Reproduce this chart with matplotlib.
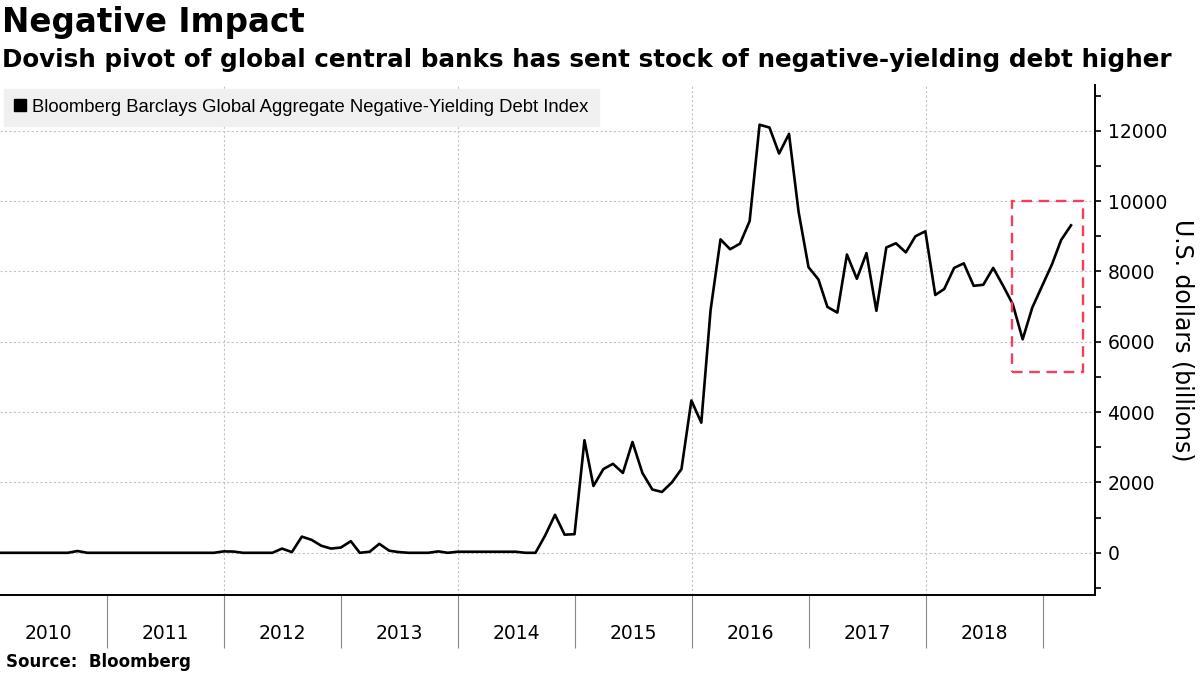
import matplotlib
matplotlib.use('Agg')
import matplotlib.pyplot as plt
import matplotlib.dates as mdates
from matplotlib.lines import Line2D
from matplotlib.patches import Rectangle
import pandas as pd

# month-end values, US$ billions
vals_2010 = [0, 0, 0, 0, 0, 0, 0, 0, 50, 0, 0, 0]
vals_2011 = [0, 0, 0, 0, 0, 0, 0, 0, 0, 0, 0, 40]
vals_2012 = [35, 0, 0, 0, 0, 120, 20, 460, 370, 200, 120, 150]
vals_2013 = [330, 0, 30, 255, 60, 20, 0, 0, 0, 40, 0, 30]
vals_2014 = [30, 30, 30, 30, 30, 30, 0, 0, 490, 1080, 515, 530]
vals_2015 = [3200, 1900, 2380, 2530, 2270, 3150, 2270, 1800, 1730, 2000, 2380, 4330]
vals_2016 = [3700, 6900, 8910, 8630, 8790, 9430, 12170, 12090, 11350, 11910, 9690, 8120]
vals_2017 = [7770, 6990, 6830, 8480, 7790, 8520, 6880, 8680, 8800, 8540, 9000, 9140]
vals_2018 = [7330, 7500, 8100, 8230, 7590, 7620, 8100, 7590, 7070, 6070, 6970, 7590]
vals_2019 = [8210, 8890, 9310]

debt = (vals_2010 + vals_2011 + vals_2012 + vals_2013 + vals_2014 +
        vals_2015 + vals_2016 + vals_2017 + vals_2018 + vals_2019)
dates = pd.date_range('2010-01-31', periods=len(debt), freq='ME')

years = list(range(2010, 2019))
year_labels = [str(y) for y in years]
grid_years = [2012, 2014, 2016, 2018]

# highlighted area (red dashed box)
box_start, box_end = '2018-09-29', '2019-05-09'
box_low, box_high = 5150, 10000

series_name = 'Bloomberg Barclays Global Aggregate Negative-Yielding Debt Index'

fig = plt.figure(figsize=(12, 6.75), dpi=100)
ax = fig.add_axes([0.0, 0.1185, 0.9125, 0.7556])

ax.plot(dates, debt, color='black', lw=1.9, zorder=3)

ax.set_xlim(dates[0], pd.Timestamp('2019-06-14'))
ax.set_ylim(-1200, 13300)

# spines
for side in ['left', 'top']:
    ax.spines[side].set_visible(False)
ax.spines['bottom'].set_linewidth(1.4)
ax.spines['right'].set_linewidth(1.4)

# y axis on the right
ax.yaxis.tick_right()
ax.yaxis.set_label_position('right')
ax.set_yticks(range(0, 12001, 2000))
ax.set_yticks(range(-1000, 13001, 2000), minor=True)
ax.tick_params(axis='y', which='both', direction='out', length=4, width=1.2,
               labelsize=13.5, pad=5)
ax.set_ylabel('U.S. dollars (billions)', rotation=270, fontsize=17,
              labelpad=20)
ax.yaxis.grid(True, which='major', color='#c4c4c4', lw=0.8,
              linestyle=(0, (2, 2)))

# x axis: year separators + centred year labels
ax.set_xticks(pd.to_datetime([f'{y + 1}-01-01' for y in years]))
ax.set_xticklabels([])
ax.set_xticks(pd.to_datetime([f'{y}-07-02' for y in years]), minor=True)
ax.set_xticklabels(year_labels, minor=True)
ax.tick_params(axis='x', which='major', length=38, width=0.8, color='#888888')
ax.tick_params(axis='x', which='minor', length=0, labelsize=13.5, pad=21)
for y in grid_years:
    ax.axvline(pd.Timestamp(f'{y}-01-01'), color='#c4c4c4', lw=0.8,
               linestyle=(0, (2, 2)), zorder=1)

# red dashed box
x0 = mdates.date2num(pd.Timestamp(box_start))
x1 = mdates.date2num(pd.Timestamp(box_end))
ax.add_patch(Rectangle((x0, box_low), x1 - x0, box_high - box_low, fill=False,
                       ec='#f0405c', lw=1.7, linestyle=(0, (4.5, 2.8)),
                       zorder=4))

handle = Line2D([], [], marker='s', color='black', linestyle='none',
                markersize=9)
leg = ax.legend([handle], [series_name], loc='upper left',
                bbox_to_anchor=(0, 1.0), borderaxespad=0.2,
                frameon=True, fancybox=False, facecolor='#f0f0f0',
                edgecolor='#f0f0f0', framealpha=1, handlelength=0.7,
                handletextpad=0.3, borderpad=0.55,
                prop={'family': 'Liberation Sans', 'size': 13.3})

fig.text(0.002, 0.966, 'Negative Impact', fontsize=23.5, fontweight='bold',
         va='center', ha='left')
fig.text(0.002, 0.911, 'Dovish pivot of global central banks has sent stock '
         'of negative-yielding debt higher', fontsize=17.7, fontweight='bold',
         va='center', ha='left')
fig.text(0.005, 0.019, 'Source:  Bloomberg', fontsize=12, fontweight='bold',
         va='center', ha='left')

fig.savefig('out.png', dpi=100)
